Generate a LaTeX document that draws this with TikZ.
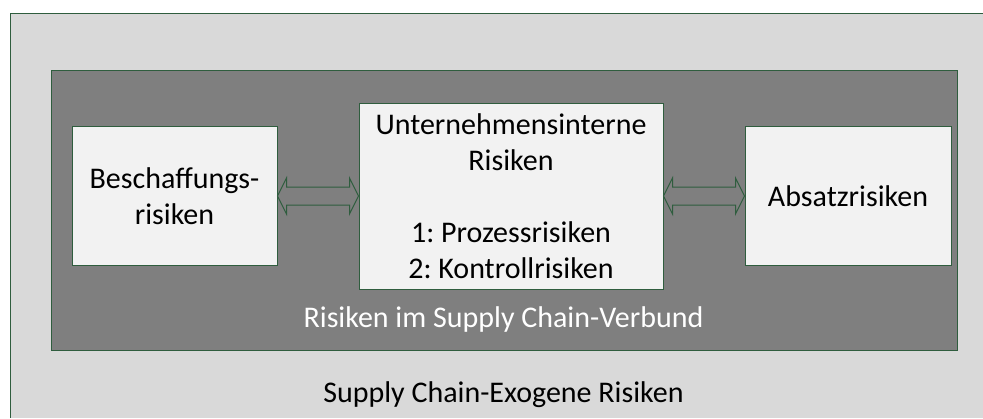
\documentclass[tikz,border=0pt]{standalone}
\usepackage{fontspec}
\setmainfont{Carlito}
\usetikzlibrary{calc}
\frenchspacing
\definecolor{bordergreen}{HTML}{2F5D3E}
\definecolor{outerfill}{HTML}{D9D9D9}
\definecolor{innerfill}{HTML}{7F7F7F}
\definecolor{boxfill}{HTML}{F2F2F2}
\begin{document}
\begin{tikzpicture}[x=1pt,y=-1pt,
  frame/.style={draw=bordergreen, line width=1pt, inner sep=0pt},
  riskbox/.style={frame, fill=boxfill, align=center, font=\fontsize{30}{36}\selectfont},
  biarrow/.style={draw=bordergreen, line width=1pt, fill=innerfill, line join=miter},
  lbl/.style={font=\fontsize{30}{36}\selectfont, inner sep=0pt, anchor=base}]
\useasboundingbox (0,0) rectangle (983,418);
\fill[white] (0,0) rectangle (983,418);
\node (outer) [fill=outerfill, inner sep=0pt, outer sep=0pt, anchor=north west, minimum width=973, minimum height=405] at (10,13) {};
\draw[bordergreen, line width=1pt] (outer.south west) |- (outer.north east);
\node (inner) [frame, fill=innerfill, minimum width=906, minimum height=280] at (504,210) {};
\node (L) [riskbox, minimum width=205, minimum height=139] at (174.5,196) {Beschaffungs-\\risiken};
\node (C) [riskbox, minimum width=304, minimum height=186] at (511,196) {Unternehmensinterne\\Risiken\\[36pt]1: Prozessrisiken\\2: Kontrollrisiken};
\node (R) [riskbox, minimum width=206, minimum height=139] at (848,196) {Absatzrisiken};
\draw[biarrow] (L.east) -- ++(9,-18) -- ++(0,9) -- ($(C.west)+(-9,-9)$) -- ++(0,-9) -- (C.west) -- ++(-9,18) -- ++(0,-9) -- ($(L.east)+(9,9)$) -- ++(0,9) -- cycle;
\draw[biarrow] (C.east) -- ++(9,-18) -- ++(0,9) -- ($(R.west)+(-9,-9)$) -- ++(0,-9) -- (R.west) -- ++(-9,18) -- ++(0,-9) -- ($(C.east)+(9,9)$) -- ++(0,9) -- cycle;
\node (innerlabel) [lbl, text=white] at (503.5,327) {Risiken im Supply Chain-Verbund};
\node (outerlabel) [lbl] at (503.5,402) {Supply Chain-Exogene Risiken};
\end{tikzpicture}
\end{document}
